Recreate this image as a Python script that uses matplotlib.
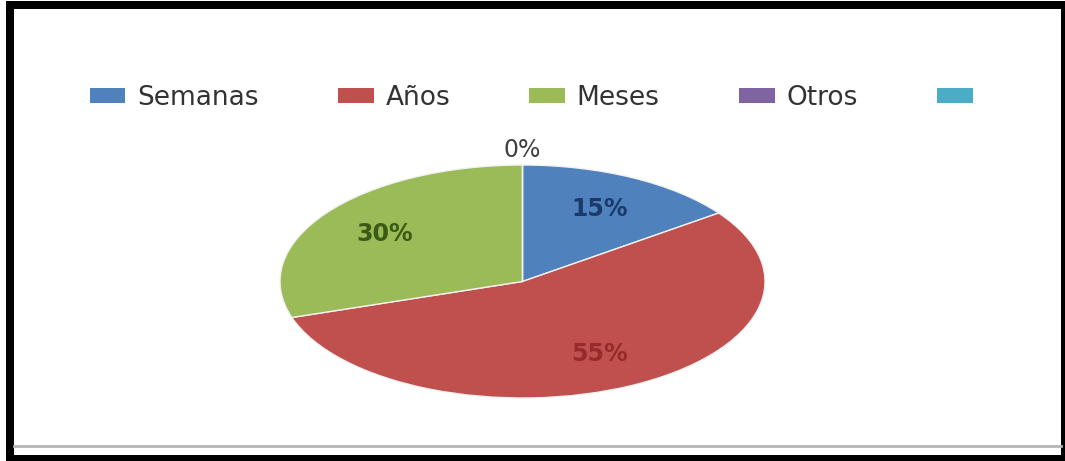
import matplotlib.pyplot as plt
from matplotlib.patches import Rectangle, Patch
from matplotlib.lines import Line2D
import numpy as np

# ── data ──────────────────────────────────────────────────────────────────────
categories = ["Semanas", "Años", "Meses", "Otros"]
shares = [15, 55, 30, 0]
slice_colours = ["#4F81BD", "#C0504D", "#9BBB59", "#8064A2"]
label_colours = ["#1B3A6B", "#982B29", "#3D5A14", "#404040"]
extra_colour = "#4BACC6"   # fifth legend key, no label

W, H = 1065, 461
fig = plt.figure(figsize=(W / 100, H / 100), dpi=100)
fig.patch.set_facecolor("white")

# black frame round the chart area (kept behind the axes)
fig.patches.append(Rectangle((6 / W, 0), (W - 6) / W, (H - 1) / H,
                             transform=fig.transFigure, facecolor="black",
                             edgecolor="none", zorder=-3))
fig.patches.append(Rectangle((14 / W, 6 / H), (1061 - 14) / W, (455 - 9) / H,
                             transform=fig.transFigure, facecolor="white",
                             edgecolor="none", zorder=-2))
fig.lines.append(Line2D([14 / W, 1061 / W], [(H - 446) / H] * 2,
                        transform=fig.transFigure, color="#B4B4B4", lw=2,
                        zorder=-1))

# ── pie (stretched into an ellipse) ──────────────────────────────────────────
ax = fig.add_axes([280 / W, (H - 398) / H, 485 / W, 233 / H])
ax.set_zorder(1)
ax.patch.set_alpha(0)
wedges, texts, autotexts = ax.pie(
    shares, colors=slice_colours, startangle=90, counterclock=False,
    autopct="%1.0f%%", pctdistance=0.7,
    wedgeprops={"edgecolor": "#F2F2F2", "linewidth": 1},
    textprops={"fontsize": 17, "fontweight": "bold"})
ax.set_aspect("auto")
ax.set_xlim(-1, 1)
ax.set_ylim(-1, 1)

for w, t, c, v in zip(wedges, autotexts, label_colours, shares):
    t.set_color(c)
    t.set_clip_on(False)
    if v == 0:
        # empty slice: put its label just outside the rim
        ang = np.deg2rad((w.theta1 + w.theta2) / 2)
        t.set_position((1.13 * np.cos(ang), 1.13 * np.sin(ang)))
        t.set_fontweight("normal")

# ── legend across the top ────────────────────────────────────────────────────
handles = [Patch(facecolor=c, edgecolor="none") for c in slice_colours]
handles.append(Patch(facecolor=extra_colour, edgecolor="none"))
fig.legend(handles, categories + [""], loc="center left",
           bbox_to_anchor=(66 / W, (H - 98) / H), ncol=5, frameon=False,
           fontsize=19, handlelength=1.35, handleheight=0.5,
           handletextpad=0.45, columnspacing=3.0, labelcolor="#333333")

plt.savefig("out.png", dpi=100, facecolor="white")
